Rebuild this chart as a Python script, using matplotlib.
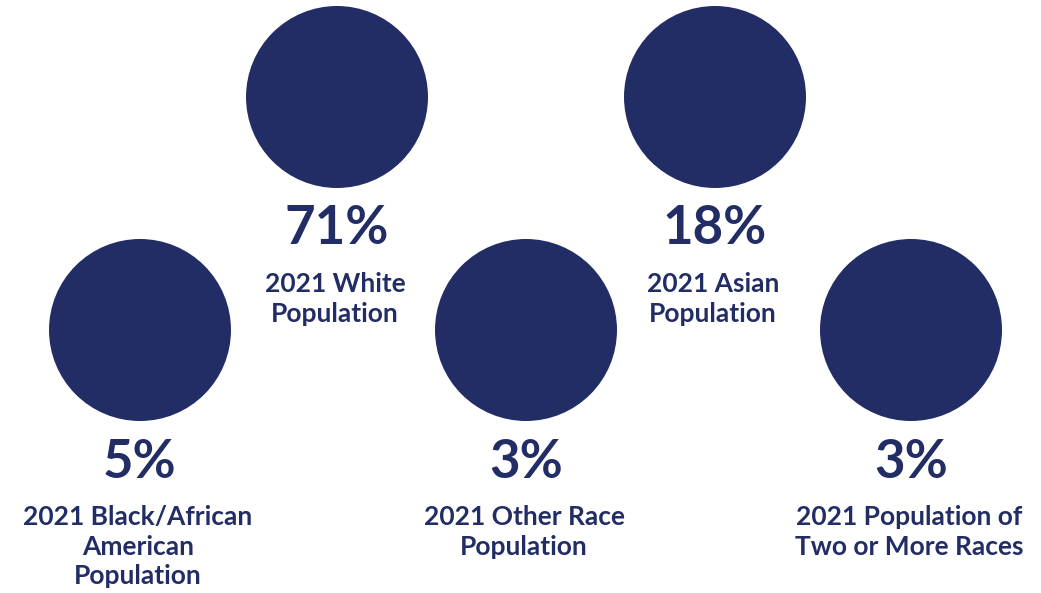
import matplotlib.pyplot as plt
from matplotlib.patches import Circle

# data
groups = ["2021 White\nPopulation", "2021 Asian\nPopulation",
          "2021 Black/African\nAmerican\nPopulation",
          "2021 Other Race\nPopulation",
          "2021 Population of\nTwo or More Races"]
shares = [71, 18, 5, 3, 3]

# layout (pixel coords of circle centres)
centers = [(337, 97), (715, 97), (140, 330), (526, 330), (911, 330)]
radius = 91
navy = "#222d66"

fig = plt.figure(figsize=(10.41, 5.93), dpi=100)
ax = fig.add_axes([0, 0, 1, 1])
ax.set_xlim(0, 1041)
ax.set_ylim(593, 0)
ax.set_aspect("equal")
ax.axis("off")

for (cx, cy), share, name in zip(centers, shares, groups):
    ax.add_patch(Circle((cx, cy), radius, color=navy, lw=0))
    ax.text(cx, cy + 132, f"{share}%", ha="center", va="center",
            fontsize=38, fontweight="bold", family="Lato", color=navy)
    ax.text(cx - 2, cy + 175, name, ha="center", va="top", fontsize=19,
            fontweight="bold", family="Lato", color=navy,
            linespacing=1.28)

fig.savefig("out.png", dpi=100)
